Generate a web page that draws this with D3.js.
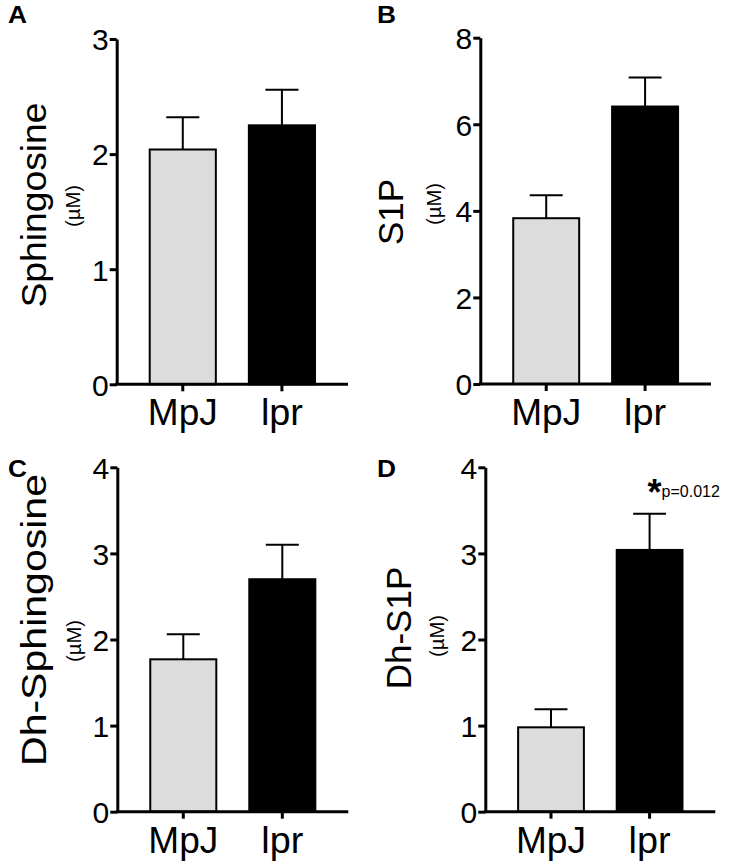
<!DOCTYPE html>
<html><head><meta charset="utf-8">
<script src="https://cdn.jsdelivr.net/npm/d3@7"></script>
<style>body{margin:0;background:#fff}svg{display:block}text{font-family:"Liberation Sans",Arial,sans-serif}</style>
</head><body>
<svg id="c" width="732" height="868"></svg>
<script>
const categories = ["MpJ", "lpr"];
const panelLetters = ["A", "B", "C", "D"];
const yLabels = ["Sphingosine", "S1P", "Dh-Sphingosine", "Dh-S1P"];
const unitLabel = "(\u00b5M)";
const yMax = [3, 8, 4, 4];
const yTicks = [[0,1,2,3],[0,2,4,6,8],[0,1,2,3,4],[0,1,2,3,4]];
const meansA = [2.04, 2.25], semA = [0.28, 0.31];
const meansB = [3.83, 6.41], semB = [0.53, 0.67];
const meansC = [1.77, 2.70], semC = [0.29, 0.40];
const meansD = [0.98, 3.04], semD = [0.21, 0.42];
const means = [meansA, meansB, meansC, meansD];
const sems = [semA, semB, semC, semD];
const fills = ["#dcdcdc", "#000000"];
const sigText = "p=0.012";

// layout
const panels = [
  {x0:116.7, x1:348, top:39, bot:384.3, lx:46, ly:205, lw:205, ux:80, uy:206, lab:[8,23]},
  {x0:480.3, x1:711, top:37.7, bot:384, lx:403, ly:212, lw:null, ux:441, uy:204, lab:[377,23]},
  {x0:117.3, x1:348.3, top:467.3, bot:811.7, lx:46, ly:620, lw:292, ux:81, uy:641, lab:[8,477]},
  {x0:485.3, x1:715.3, top:467.3, bot:811.7, lx:411, ly:628, lw:null, ux:444, uy:636, lab:[377,477]}
];
const xLabelLen = [70, 42];

const svg = d3.select("#c");
panels.forEach((p, i) => {
  const g = svg.append("g");
  const x = d3.scaleBand().domain(categories).range([p.x0, p.x1]).padding(0.333);
  const y = d3.scaleLinear().domain([0, yMax[i]]).range([p.bot, p.top]);

  const bw = x.bandwidth();
  categories.forEach((c, j) => {
    const m = means[i][j], s = sems[i][j];
    const cx = x(c) + bw/2;
    g.append("line").attr("x1", cx).attr("x2", cx).attr("y1", y(m)).attr("y2", y(m+s))
      .attr("stroke", "#000").attr("stroke-width", 2);
    g.append("line").attr("x1", cx - bw*0.25).attr("x2", cx + bw*0.25).attr("y1", y(m+s)).attr("y2", y(m+s))
      .attr("stroke", "#000").attr("stroke-width", 2);
    g.append("rect").attr("x", x(c)).attr("width", bw).attr("y", y(m)).attr("height", y(0) - y(m))
      .attr("fill", fills[j]).attr("stroke", "#000").attr("stroke-width", 2);
  });

  // y axis
  const ya = g.append("g").attr("transform", `translate(${p.x0},0)`)
    .call(d3.axisLeft(y).tickValues(yTicks[i]).tickSize(7).tickPadding(1).tickSizeOuter(0).tickFormat(d3.format("d")));
  ya.select(".domain").attr("stroke-width", 3);
  ya.selectAll(".tick line").attr("stroke-width", 3);
  ya.selectAll("text").attr("font-size", 30).attr("font-family", "Liberation Sans, Arial, sans-serif").attr("fill", "#000").attr("dy", "0.36em");

  // x axis
  const xa = g.append("g").attr("transform", `translate(0,${p.bot})`)
    .call(d3.axisBottom(x).tickSize(7).tickSizeOuter(0));
  xa.select(".domain").attr("stroke-width", 3).attr("d", `M${p.x0-1.5},0H${p.x1}`);
  xa.selectAll(".tick line").attr("stroke-width", 3);
  xa.selectAll("text").attr("font-size", 36).attr("font-family", "Liberation Sans, Arial, sans-serif").attr("fill", "#000")
    .attr("y", 41).attr("dy", 0)
    .attr("textLength", (d, k) => xLabelLen[k]).attr("lengthAdjust", "spacingAndGlyphs");

  // y label
  const yl = g.append("text").attr("transform", `translate(${p.lx},${p.ly}) rotate(-90)`)
    .attr("text-anchor", "middle").attr("font-size", 35).text(yLabels[i]);
  if (p.lw) yl.attr("textLength", p.lw).attr("lengthAdjust", "spacingAndGlyphs");
  g.append("text").attr("transform", `translate(${p.ux},${p.uy}) rotate(-90)`)
    .attr("text-anchor", "middle").attr("font-size", 20)
    .attr("textLength", 42).attr("lengthAdjust", "spacingAndGlyphs").text(unitLabel);

  // panel letter
  g.append("text").attr("x", p.lab[0]).attr("y", p.lab[1]).attr("font-size", 24).attr("font-weight", "bold")
    .attr("textLength", 19).attr("lengthAdjust", "spacingAndGlyphs").text(panelLetters[i]);

  if (i === 3) {
    const cx = x(categories[1]) + bw/2;
    const yy = y(means[i][1] + sems[i][1]);
    g.append("text").attr("x", cx + 12).attr("y", yy - 9).attr("font-size", 36).attr("font-weight", "bold").attr("text-anchor", "end").text("*");
    g.append("text").attr("x", cx + 12).attr("y", yy - 17).attr("font-size", 16).text(sigText);
  }
});
</script>
</body></html>
